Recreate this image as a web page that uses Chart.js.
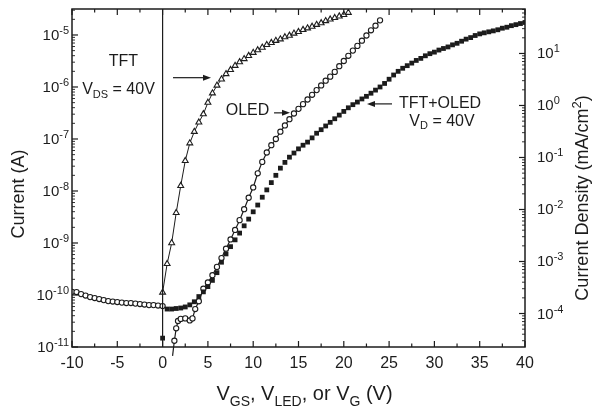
<!DOCTYPE html>
<html>
<head>
<meta charset="utf-8">
<title>TFT / OLED current</title>
<script src="https://cdn.jsdelivr.net/npm/chart.js@4.4.0/dist/chart.umd.min.js"></script>
<style>
  html, body { margin: 0; padding: 0; background: #fff; }
  #wrap { width: 593px; height: 410px; }
</style>
</head>
<body>
<div id="wrap"><canvas id="ivChart"></canvas></div>
<script>
// ---- data (voltage in V, current in A) ----

// OLED reverse bias, V < 0 (open circles)
const reverseVolts = [-10, -9.5, -9, -8.5, -8, -7.5, -7, -6.5, -6, -5.5, -5, -4.5, -4, -3.5, -3, -2.5, -2, -1.5, -1, -0.5, 0];
const reverseCurrent = [1.15e-10, 1.14e-10, 1.04e-10, 9.75e-11, 9.12e-11, 8.73e-11, 8.36e-11, 7.98e-11, 7.64e-11, 7.48e-11, 7.31e-11,
  7.14e-11, 7.00e-11, 7.00e-11, 6.84e-11, 6.70e-11, 6.55e-11, 6.40e-11, 6.40e-11, 6.27e-11, 6.12e-11];

// TFT, V_DS = 40V (open triangles)
const tftVolts = [0, 0.5, 1, 1.5, 2, 2.5, 3, 3.5, 4, 4.5, 5, 5.5, 6, 6.5, 7, 7.5, 8, 8.5, 9, 9.5, 10,
  10.5, 11, 11.5, 12, 12.5, 13, 13.5, 14, 14.5, 15, 15.5, 16, 16.5, 17, 17.5, 18, 18.5, 19, 19.5, 20, 20.5];
const tftCurrent = [1.12e-10, 3.98e-10, 1.00e-9, 3.80e-9, 1.26e-8, 3.80e-8, 8.32e-8, 1.38e-7, 2.09e-7, 3.02e-7, 5.01e-7,
  7.59e-7, 1.07e-6, 1.41e-6, 1.78e-6, 2.14e-6, 2.57e-6, 3.02e-6, 3.47e-6, 3.98e-6, 4.57e-6,
  5.13e-6, 5.75e-6, 6.46e-6, 7.08e-6, 7.76e-6, 8.32e-6, 9.12e-6, 9.77e-6, 1.07e-5, 1.15e-5,
  1.26e-5, 1.35e-5, 1.45e-5, 1.58e-5, 1.70e-5, 1.86e-5, 2.00e-5, 2.14e-5, 2.29e-5, 2.45e-5, 2.69e-5];

// OLED forward bias (open circles)
const oledVolts = [1.1, 1.3, 1.5, 1.7, 2, 2.5, 3, 3.3, 3.6, 4, 4.5, 5, 5.5, 6, 6.5, 7, 7.5, 8, 8.5, 9, 9.5, 10,
  10.5, 11, 11.5, 12, 12.5, 13, 13.5, 14, 14.5, 15, 15.5, 16, 16.5, 17, 17.5, 18, 18.5, 19, 19.5, 20,
  20.5, 21, 21.5, 22, 22.5, 23, 23.5, 24];
const oledCurrent = [6.76e-12, 1.32e-11, 2.29e-11, 3.16e-11, 3.47e-11, 3.55e-11, 3.24e-11, 3.55e-11, 5.37e-11, 7.59e-11,
  1.32e-10, 1.74e-10, 2.40e-10, 3.47e-10, 5.13e-10, 7.76e-10, 1.17e-9, 1.78e-9, 2.75e-9, 4.47e-9, 7.41e-9, 1.17e-8,
  2.19e-8, 3.63e-8, 5.50e-8, 7.59e-8, 1.00e-7, 1.38e-7, 1.82e-7, 2.40e-7, 3.09e-7, 3.80e-7, 4.68e-7, 5.75e-7,
  7.08e-7, 8.71e-7, 1.07e-6, 1.32e-6, 1.58e-6, 1.95e-6, 2.51e-6, 3.16e-6, 3.98e-6, 5.01e-6, 6.17e-6, 7.76e-6,
  9.77e-6, 1.23e-5, 1.51e-5, 1.91e-5];

// TFT+OLED, V_D = 40V (filled squares)
const pixelVolts = [0, 0.5, 1, 1.5, 2, 2.5, 3, 3.5, 4, 4.5, 5, 5.5, 6, 6.5, 7, 7.5, 8, 8.5, 9, 9.5, 10,
  10.5, 11, 11.5, 12, 12.5, 13, 13.5, 14, 14.5, 15, 15.5, 16, 16.5, 17, 17.5, 18, 18.5, 19, 19.5, 20,
  20.5, 21, 21.5, 22, 22.5, 23, 23.5, 24, 24.5, 25, 25.5, 26, 26.5, 27, 27.5, 28, 28.5, 29, 29.5, 30,
  30.5, 31, 31.5, 32, 32.5, 33, 33.5, 34, 34.5, 35, 35.5, 36, 36.5, 37, 37.5, 38, 38.5, 39, 39.5, 40];
const pixelCurrent = [1.48e-11, 5.37e-11, 5.37e-11, 5.50e-11, 5.62e-11, 5.89e-11, 6.46e-11, 7.41e-11, 9.33e-11, 1.15e-10, 1.45e-10,
  1.91e-10, 2.69e-10, 4.27e-10, 6.17e-10, 8.51e-10, 1.15e-9, 1.55e-9, 2.14e-9, 2.88e-9, 3.98e-9,
  5.37e-9, 7.59e-9, 1.05e-8, 1.45e-8, 2.00e-8, 2.75e-8, 3.55e-8, 4.47e-8, 5.37e-8, 6.46e-8,
  7.59e-8, 8.71e-8, 1.05e-7, 1.29e-7, 1.51e-7, 1.78e-7, 2.09e-7, 2.45e-7, 2.88e-7, 3.39e-7,
  3.98e-7, 4.57e-7, 5.13e-7, 5.89e-7, 6.61e-7, 7.59e-7, 8.71e-7, 1.00e-6, 1.17e-6, 1.41e-6,
  1.70e-6, 2.00e-6, 2.29e-6, 2.57e-6, 2.88e-6, 3.24e-6, 3.55e-6, 3.98e-6, 4.37e-6, 4.68e-6,
  5.13e-6, 5.50e-6, 5.89e-6, 6.46e-6, 6.92e-6, 7.59e-6, 8.32e-6, 8.91e-6, 9.77e-6, 1.05e-5,
  1.10e-5, 1.15e-5, 1.20e-5, 1.26e-5, 1.35e-5, 1.41e-5, 1.51e-5, 1.58e-5, 1.66e-5, 1.74e-5];

// ---- axes ----
const xTickValues = [-10, -5, 0, 5, 10, 15, 20, 25, 30, 35, 40];
const xTickLabels = ['-10', '-5', '0', '5', '10', '15', '20', '25', '30', '35', '40'];
const xMinorValues = [-7.5, -2.5, 2.5, 7.5, 12.5, 17.5, 22.5, 27.5, 32.5, 37.5];
const leftExponents = [-11, -10, -9, -8, -7, -6, -5];
const rightExponents = [-4, -3, -2, -1, 0, 1];
const leftRange = [1e-11, 3.16e-5];      // A
const rightRange = [2.27e-5, 71.6];      // mA/cm^2

const INK = '#1c1c1c';
const FONT = '"Liberation Sans", Arial, Helvetica, sans-serif';

// annotations, anchored in data coordinates
const notes = [
  { parts: [['TFT']], v: -4.32, i: 3.03e-6 },
  { parts: [['V'], ['DS', 'sub'], [' = 40V']], v: -4.87, i: 9.0e-7 },
  { parts: [['OLED']], v: 9.37, i: 3.56e-7 },
  { parts: [['TFT+OLED']], v: 30.62, i: 4.73e-7 },
  { parts: [['V'], ['D', 'sub'], [' = 40V']], v: 30.84, i: 2.19e-7 }
];
const arrows = [
  { from: [1.15, 1.51e-6], to: [5.34, 1.51e-6] },
  { from: [12.3, 3.18e-7], to: [14.06, 3.18e-7] },
  { from: [25.32, 4.73e-7], to: [22.56, 4.73e-7] }
];

function toPoints(xs, ys) {
  return xs.map((v, i) => ({ x: v, y: ys[i] }));
}

// draw text made of normal / sub / sup pieces
function drawRich(ctx, parts, x, y, size, align) {
  const small = Math.round(size * 0.7);
  let width = 0;
  parts.forEach(([t, kind]) => {
    ctx.font = `${kind ? small : size}px ${FONT}`;
    width += ctx.measureText(t).width;
  });
  let cx = align === 'center' ? x - width / 2 : (align === 'right' ? x - width : x);
  ctx.textAlign = 'left';
  parts.forEach(([t, kind]) => {
    ctx.font = `${kind ? small : size}px ${FONT}`;
    let dy = 0;
    if (kind === 'sub') dy = size * 0.32;
    if (kind === 'sup') dy = -size * 0.4;
    ctx.fillText(t, cx, y + dy);
    cx += ctx.measureText(t).width;
  });
}

function strokeLine(ctx, x1, y1, x2, y2) {
  ctx.beginPath();
  ctx.moveTo(x1, y1);
  ctx.lineTo(x2, y2);
  ctx.stroke();
}

function decadeLabel(ctx, exp, x, y, align) {
  const sup = String(exp);
  drawRich(ctx, [['10'], [sup, 'sup']], x, y + 5, 15, align);
}

const axisDecor = {
  id: 'axisDecor',
  afterDraw(chart) {
    const { ctx, chartArea: a, scales } = chart;
    const xs = scales.x, ys = scales.y, ys2 = scales.y2;
    ctx.save();
    ctx.strokeStyle = INK;
    ctx.fillStyle = INK;

    // frame and V = 0 line
    ctx.lineWidth = 1.5;
    ctx.strokeRect(a.left, a.top, a.right - a.left, a.bottom - a.top);
    ctx.lineWidth = 1.2;
    const x0 = xs.getPixelForValue(0);
    strokeLine(ctx, x0, a.top, x0, a.bottom);

    // x ticks (inward, bottom and top)
    ctx.lineWidth = 1.2;
    xTickValues.forEach(v => {
      const px = xs.getPixelForValue(v);
      strokeLine(ctx, px, a.bottom, px, a.bottom - 6);
      strokeLine(ctx, px, a.top, px, a.top + 6);
    });
    xMinorValues.forEach(v => {
      const px = xs.getPixelForValue(v);
      strokeLine(ctx, px, a.bottom, px, a.bottom - 3.5);
      strokeLine(ctx, px, a.top, px, a.top + 3.5);
    });

    // log ticks on both y axes
    const logTicks = (scale, range, side) => {
      const lo = Math.floor(Math.log10(range[0]));
      const hi = Math.ceil(Math.log10(range[1]));
      for (let n = lo; n <= hi; n++) {
        for (let k = 1; k <= 9; k++) {
          const val = k * Math.pow(10, n);
          if (val < range[0] || val > range[1]) continue;
          const py = scale.getPixelForValue(val);
          const len = k === 1 ? 6 : 3;
          ctx.lineWidth = k === 1 ? 1.2 : 0.9;
          if (side === 'left') strokeLine(ctx, a.left, py, a.left + len, py);
          else strokeLine(ctx, a.right, py, a.right - len, py);
        }
      }
    };
    logTicks(ys, leftRange, 'left');
    logTicks(ys2, rightRange, 'right');

    // tick labels
    ctx.textBaseline = 'alphabetic';
    leftExponents.forEach(n => {
      decadeLabel(ctx, n, a.left - 3, ys.getPixelForValue(Math.pow(10, n)), 'right');
    });
    rightExponents.forEach(n => {
      decadeLabel(ctx, n, a.right + 12, ys2.getPixelForValue(Math.pow(10, n)), 'left');
    });
    ctx.font = `16px ${FONT}`;
    ctx.textAlign = 'center';
    ctx.textBaseline = 'top';
    xTickValues.forEach((v, i) => {
      ctx.fillText(xTickLabels[i], xs.getPixelForValue(v), a.bottom + 9);
    });

    // axis titles
    ctx.textBaseline = 'alphabetic';
    drawRich(ctx, [['V'], ['GS', 'sub'], [', V'], ['LED', 'sub'], [', or V'], ['G', 'sub'], [' (V)']],
      (a.left + a.right) / 2 + 6, 400, 20, 'center');

    ctx.save();
    ctx.translate(24, (a.top + a.bottom) / 2 + 16);
    ctx.rotate(-Math.PI / 2);
    drawRich(ctx, [['Current (A)']], 0, 0, 18, 'center');
    ctx.restore();

    ctx.save();
    ctx.translate(588, (a.top + a.bottom) / 2 + 20);
    ctx.rotate(-Math.PI / 2);
    drawRich(ctx, [['Current Density (mA/cm'], ['2', 'sup'], [')']], 0, 0, 18, 'center');
    ctx.restore();

    // annotations
    ctx.textBaseline = 'middle';
    notes.forEach(n => {
      drawRich(ctx, n.parts, xs.getPixelForValue(n.v), ys.getPixelForValue(n.i), 16, 'center');
    });
    ctx.lineWidth = 1.2;
    arrows.forEach(ar => {
      const x1 = xs.getPixelForValue(ar.from[0]), y1 = ys.getPixelForValue(ar.from[1]);
      const x2 = xs.getPixelForValue(ar.to[0]), y2 = ys.getPixelForValue(ar.to[1]);
      const dir = Math.sign(x2 - x1);
      strokeLine(ctx, x1, y1, x2 - dir * 6, y2);
      ctx.beginPath();
      ctx.moveTo(x2, y2);
      ctx.lineTo(x2 - dir * 8, y2 - 3);
      ctx.lineTo(x2 - dir * 8, y2 + 3);
      ctx.closePath();
      ctx.fill();
    });

    ctx.restore();
  }
};

const ctx = document.getElementById('ivChart').getContext('2d');
new Chart(ctx, {
  type: 'scatter',
  data: {
    datasets: [
      {
        label: 'TFT+OLED',
        data: toPoints(pixelVolts, pixelCurrent),
        showLine: false,
        pointStyle: 'rect',
        pointRadius: 3.4,
        pointBorderWidth: 0,
        pointBackgroundColor: INK,
        borderColor: INK,
        yAxisID: 'y'
      },
      {
        label: 'OLED reverse',
        data: toPoints(reverseVolts, reverseCurrent),
        showLine: true,
        borderColor: INK,
        borderWidth: 1,
        pointStyle: 'circle',
        pointRadius: 2.6,
        pointBorderWidth: 1.1,
        pointBackgroundColor: '#fff',
        yAxisID: 'y'
      },
      {
        label: 'OLED',
        data: toPoints(oledVolts, oledCurrent),
        showLine: true,
        borderColor: INK,
        borderWidth: 1.2,
        pointStyle: 'circle',
        pointRadius: 2.6,
        pointBorderWidth: 1.1,
        pointBackgroundColor: '#fff',
        clip: false,
        yAxisID: 'y'
      },
      {
        label: 'TFT',
        data: toPoints(tftVolts, tftCurrent),
        showLine: true,
        borderColor: INK,
        borderWidth: 1,
        pointStyle: 'triangle',
        pointRadius: 3.4,
        pointBorderWidth: 1.1,
        pointBackgroundColor: '#fff',
        yAxisID: 'y'
      }
    ]
  },
  options: {
    responsive: true,
    maintainAspectRatio: false,
    animation: false,
    devicePixelRatio: 1,
    layout: { padding: { top: 9, left: 0, right: 0, bottom: 0 } },
    plugins: {
      legend: { display: false },
      tooltip: { enabled: false }
    },
    scales: {
      x: {
        type: 'linear',
        min: -10,
        max: 40,
        grid: { display: false },
        border: { display: false },
        ticks: { display: false },
        afterFit: s => { s.height = 63; }
      },
      y: {
        type: 'logarithmic',
        position: 'left',
        min: leftRange[0],
        max: leftRange[1],
        grid: { display: false },
        border: { display: false },
        ticks: { display: false },
        afterFit: s => { s.width = 72; }
      },
      y2: {
        type: 'logarithmic',
        position: 'right',
        min: rightRange[0],
        max: rightRange[1],
        grid: { display: false },
        border: { display: false },
        ticks: { display: false },
        afterFit: s => { s.width = 68; }
      }
    }
  },
  plugins: [axisDecor]
});
</script>
</body>
</html>
